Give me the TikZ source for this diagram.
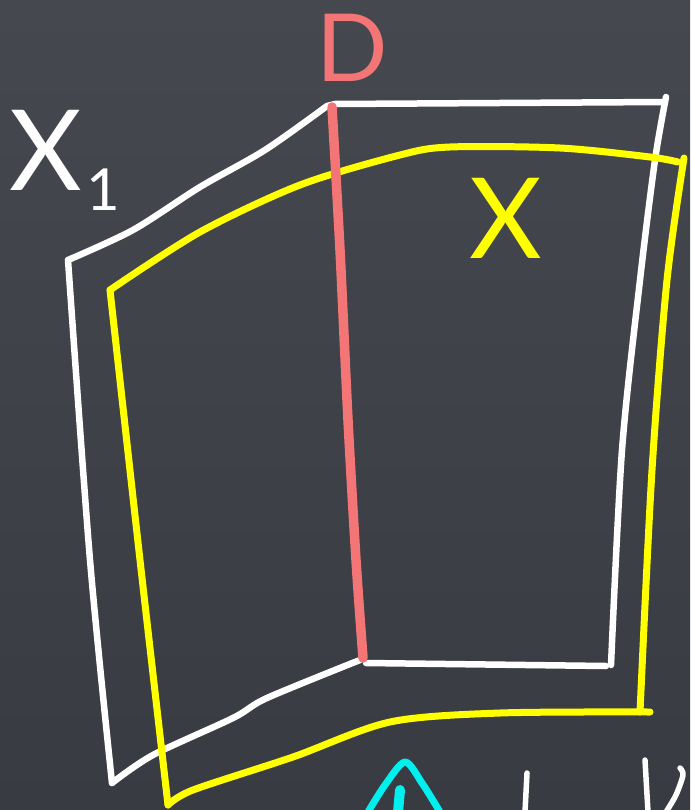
\documentclass[tikz,border=0pt]{standalone}
\usepackage{fontspec}
\setsansfont{Lato}
\usepackage{tikz}
\usetikzlibrary{positioning}
\definecolor{board}{HTML}{383B41}
\definecolor{boardhi}{HTML}{45484E}
\definecolor{chalk}{HTML}{FFFFFF}
\definecolor{lemon}{HTML}{FFFF00}
\definecolor{salmon}{HTML}{F47575}
\definecolor{aqua}{HTML}{00F0F0}
\tikzset{
  chalkline/.style={draw=chalk,line width=6.5pt,line cap=round,line join=round},
  yline/.style={draw=lemon,line width=7pt,line cap=round,line join=round},
  dline/.style={draw=salmon,line width=9.5pt,line cap=round},
  cline/.style={draw=aqua,line width=7pt,line cap=round,line join=round},
  bigtag/.style={font=\sffamily\fontsize{112}{112}\selectfont,inner sep=0pt},
  midtag/.style={font=\sffamily\fontsize{94}{94}\selectfont,inner sep=0pt},
  subtag/.style={font=\sffamily\fontsize{58}{58}\selectfont,inner sep=0pt},
}

\begin{document}
\begin{tikzpicture}[x=1pt,y=-1pt]
  % board
  \useasboundingbox (0,0) rectangle (690,810);
  \shade[top color=boardhi,bottom color=board] (0,0) rectangle (690,810);

  % outline of X_1
  \draw[chalkline] plot[smooth] coordinates {(68,260) (133,230) (200,187) (265,150) (327,106)}
    -- (335,104) -- (665,102);
  \draw[chalkline] plot[smooth] coordinates {(666,97) (655,160) (640,280) (622,450) (611,665)};
  \draw[chalkline] (606,666) -- (366,663);
  \draw[chalkline] plot[smooth] coordinates {(360,660) (267,698) (233,718) (153,755) (112,783)};
  \draw[chalkline] plot[smooth] coordinates {(112,783) (90,560) (68,260)};

  % outline of X
  \draw[yline] plot[smooth] coordinates {(110,290) (200,232) (300,185) (400,155) (450,147) (560,148) (650,157) (678,162)};
  \draw[yline] plot[smooth] coordinates {(684,158) (667,280) (652,470) (640,712)};
  \draw[yline] plot[smooth] coordinates {(650,712) (500,713) (390,722) (293,757) (193,790) (168,805)};
  \draw[yline] plot[smooth] coordinates {(168,805) (140,560) (110,290)};

  % the cut D
  \draw[dline] plot[smooth] coordinates {(332,107) (340,250) (348,420) (356,560) (363,658)};

  % labels
  \node[bigtag,text=chalk] (xone) at (46,150) {X};
  \node[subtag,text=chalk] (xsub) at (103,190) {1};
  \node[midtag,text=salmon] (dlabel) at (352,48) {D};
  \node[bigtag,text=lemon] (xlabel) at (506,218) {X};

  % cut-off marks at the bottom edge
  \draw[cline] plot[smooth] coordinates {(368,812) (385,785) (405,762) (422,783) (440,812)};
  \draw[draw=aqua,line width=10pt,line cap=round] (400,790) -- (398,812);
  \draw[chalkline,line width=5.5pt] (527,773) -- (525,812);
  \draw[chalkline,line width=5.5pt] (645,760) -- (648,812);
  \draw[chalkline,line width=5.5pt] plot[smooth] coordinates {(680,768) (683,775) (676,795) (666,812)};
\end{tikzpicture}
\end{document}
